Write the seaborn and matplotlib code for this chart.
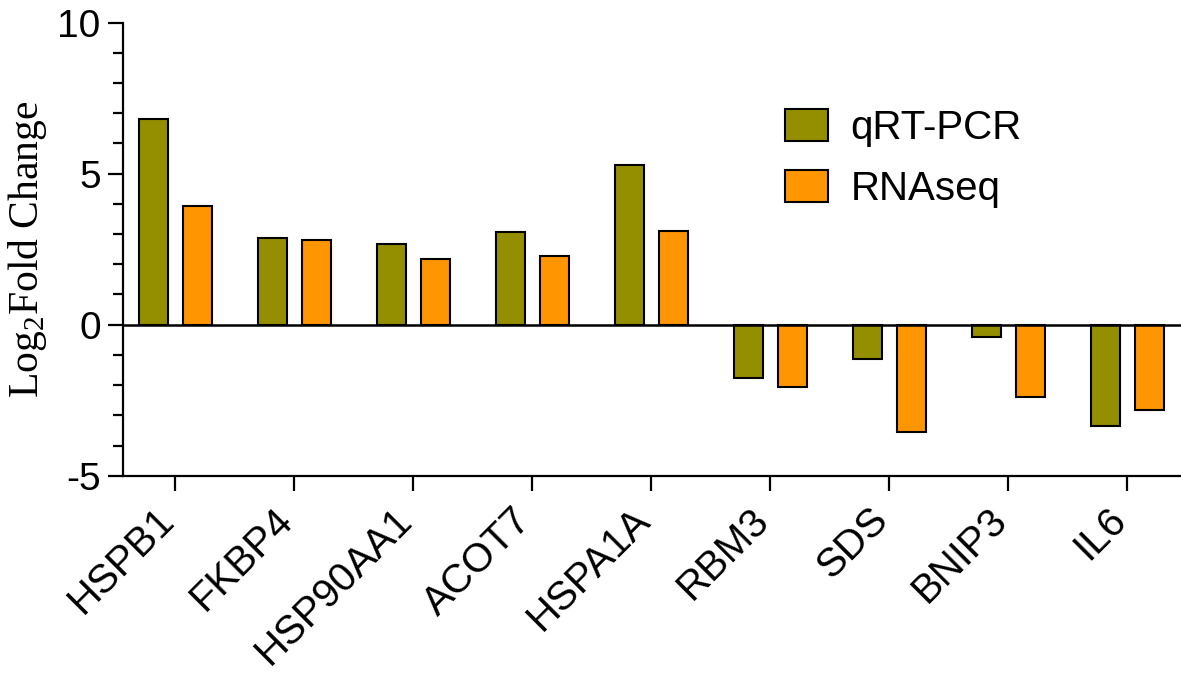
import pandas as pd
import seaborn as sns
import matplotlib.pyplot as plt
from matplotlib.ticker import MultipleLocator
from matplotlib.transforms import ScaledTranslation

# data
genes = ["HSPB1", "FKBP4", "HSP90AA1", "ACOT7", "HSPA1A", "RBM3", "SDS", "BNIP3", "IL6"]
qrt_pcr = [6.81, 2.88, 2.67, 3.07, 5.30, -1.78, -1.15, -0.41, -3.34]
rnaseq = [3.92, 2.80, 2.18, 2.28, 3.10, -2.05, -3.54, -2.41, -2.82]
methods = ["qRT-PCR", "RNAseq"]
colors = ["#948F00", "#FF9500"]

df = pd.DataFrame({
    "gene": genes * 2,
    "value": qrt_pcr + rnaseq,
    "method": [methods[0]] * len(genes) + [methods[1]] * len(genes),
})

sns.set_style("ticks")
plt.rcParams["font.family"] = ["Liberation Sans", "DejaVu Sans"]
plt.rcParams["mathtext.fontset"] = "custom"
plt.rcParams["mathtext.rm"] = "Liberation Serif"
plt.rcParams["axes.unicode_minus"] = False
for k in ["text.color", "axes.labelcolor", "axes.edgecolor", "xtick.color", "ytick.color"]:
    plt.rcParams[k] = "black"

fig = plt.figure(figsize=(11.81, 6.79), dpi=100)
ax = fig.add_axes([0.1041, 0.2994, 0.8959, 0.6672])

sns.barplot(
    data=df, x="gene", y="value", hue="method",
    palette=colors, saturation=1, width=0.74, gap=0.34,
    edgecolor="black", linewidth=1.5, ax=ax,
)

# zero line
ax.axhline(0, color="black", linewidth=1.8, zorder=3)

ax.set_xlim(-0.44, 8.45)
ax.set_ylim(-5, 10)
ax.set_yticks([-5, 0, 5, 10])
ax.yaxis.set_minor_locator(MultipleLocator(1))

sns.despine(ax=ax)
for s in ["left", "bottom"]:
    ax.spines[s].set_linewidth(1.6)

ax.tick_params(axis="y", which="major", length=11, width=1.6, labelsize=28, pad=5)
ax.tick_params(axis="y", which="minor", length=7, width=1.6)
ax.tick_params(axis="x", length=11, width=1.6, labelsize=29, pad=4)
# nudge rotated gene names down-left like the original
shift = ScaledTranslation(-21 / 100, -4 / 100, fig.dpi_scale_trans)
for lab in ax.get_xticklabels():
    lab.set_rotation(45)
    lab.set_ha("right")
    lab.set_rotation_mode("anchor")
    lab.set_transform(lab.get_transform() + shift)

ax.set_xlabel("")
ax.set_ylabel("Log$_2$Fold Change", fontsize=30, family="Liberation Serif", labelpad=6)

handles, labels = ax.get_legend_handles_labels()
ax.legend(
    handles, labels, frameon=False, fontsize=29,
    loc="upper left", bbox_to_anchor=(785 / 1181, 1 - 109 / 679),
    bbox_transform=fig.transFigure, borderpad=0, borderaxespad=0,
    handlelength=1.07, handleheight=0.82, handletextpad=0.55, labelspacing=0.57,
)

plt.savefig("out.png", dpi=100)
